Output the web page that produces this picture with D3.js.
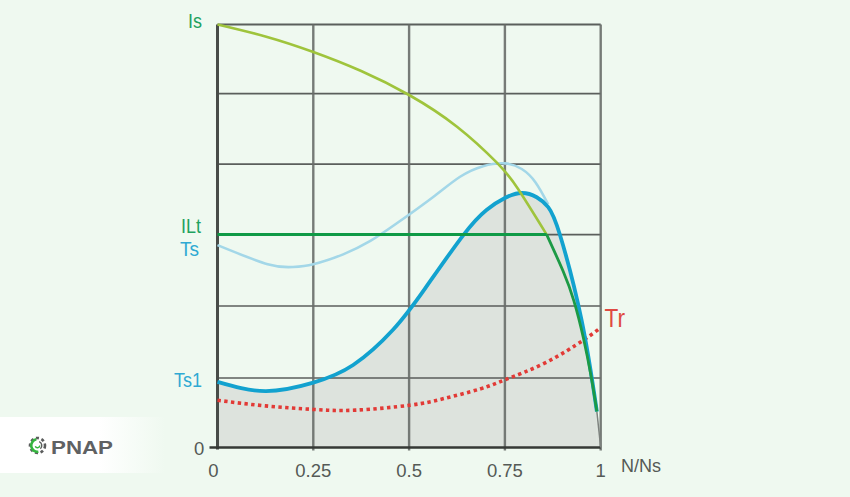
<!DOCTYPE html>
<html>
<head>
<meta charset="utf-8">
<style>
html,body{margin:0;padding:0;background:#eff9f0;}
svg{display:block;}
text{font-family:"Liberation Sans",Arial,sans-serif;}
</style>
<script src="https://cdn.jsdelivr.net/npm/d3@7"></script>
</head>
<body>
<svg id="chart" width="850" height="497"></svg>
<script>
// Motor speed ratio on x, current / torque in grid divisions on y
const xTicks = [0, 0.25, 0.5, 0.75, 1];
const xTickLabels = ["0", "0.25", "0.5", "0.75", "1"];
const gridLevels = [0.986, 2.007, 3.02, 4.02, 5.02, 6];

const currentIsUpper = [[0,6],[.125,5.83],[.25,5.61],[.375,5.34],[.5,5.0],[.625,4.55],[.729,4.04],[.784,3.67],[.859,3.02]];
const currentIsLower = [[.859,3.02],[.902,2.5],[.93,2.08],[.955,1.55],[.976,.98],[.99,.51]];
const currentTail = [[.99,.51],[1,0]];
const currentILt = [[0,3.02],[.859,3.02]];
const torqueTs = [[0,2.87],[.131,2.6],[.197,2.56],[.25,2.6],[.328,2.74],[.399,2.93],[.468,3.18],[.562,3.55],[.633,3.84],[.693,3.99],[.75,4.03],[.794,3.95],[.83,3.76],[.863,3.45]];
const torqueTs1 = [[0,.93],[.125,.8],[.25,.92],[.354,1.17],[.458,1.67],[.541,2.25],[.641,3.01],[.702,3.37],[.75,3.54],[.794,3.61],[.833,3.55],[.863,3.41],[.894,3.01],[.95,1.81],[.99,.51]];
const torqueTr = [[0,.67],[.125,.59],[.25,.54],[.36,.53],[.502,.6],[.588,.69],[.685,.83],[.75,.96],[.855,1.2],[.954,1.52],[1,1.7]];

const seriesLabels = [
  {text:"Is", x:188, y:28, size:20, width:14, color:"#1fa25f"},
  {text:"ILt", x:181, y:232.5, size:20, width:20, color:"#1fa25f"},
  {text:"Ts", x:180, y:256, size:20, width:19, color:"#2fa9d3"},
  {text:"Ts1", x:174, y:386.5, size:20, width:28, color:"#2fa9d3"},
  {text:"Tr", x:604.5, y:327, size:26, width:20.5, color:"#df4a42"}
];

const svg = d3.select("#chart");
const x = d3.scaleLinear().domain([0,1]).range([217.5,600.7]);
const y = d3.scaleLinear().domain([0,6]).range([447.5,24.5]);
const line = d3.line().x(d=>x(d[0])).y(d=>y(d[1])).curve(d3.curveNatural);

// Shaded region under the reduced-voltage torque curve
const area = d3.area().x(d=>x(d[0])).y0(y(0)).y1(d=>y(d[1])).curve(d3.curveNatural);
svg.append("path").datum(torqueTs1).attr("d",area).attr("fill","#dde3dd");
svg.append("path").datum(torqueTs1.slice(-1).concat([[1,0],[.99,0]]))
  .attr("d",d3.line().x(d=>x(d[0])).y(d=>y(d[1]))).attr("fill","#dde3dd");

// Grid
const grid = svg.append("g");
grid.selectAll("line.h").data(gridLevels).join("line")
  .attr("x1",x(0)).attr("x2",x(1)).attr("y1",d=>y(d)).attr("y2",d=>y(d))
  .attr("stroke","#4a4e4b").attr("stroke-width",d=>d===6?2.2:1.7).attr("stroke-opacity",.9);
grid.selectAll("line.v").data(xTicks.slice(1)).join("line")
  .attr("x1",d=>x(d)).attr("x2",d=>x(d)).attr("y1",y(6)).attr("y2",y(0)+3)
  .attr("stroke","#686d69").attr("stroke-width",2.4).attr("stroke-opacity",.9);

// Main axes
svg.append("line").attr("x1",x(0)).attr("x2",x(0)).attr("y1",y(6)).attr("y2",y(0)+2)
  .attr("stroke","#484c48").attr("stroke-width",3);
svg.append("line").attr("x1",x(0)-8).attr("x2",x(1)).attr("y1",y(0)).attr("y2",y(0))
  .attr("stroke","#353935").attr("stroke-width",2.6);

// Curves
const stroke = (data, color, width) => svg.append("path").datum(data).attr("d",line)
  .attr("fill","none").attr("stroke",color).attr("stroke-width",width);
stroke(currentTail,"#7d827e",1.5);
stroke(torqueTs,"#a3d7e8",2.6);
stroke(torqueTr,"#e23a36",3.6).attr("stroke-dasharray","3.4 3.4");
stroke(torqueTs1,"#12a2cf",3.8);
stroke(currentIsUpper,"#9fc43c",2.6);
stroke(currentIsLower,"#1c9a45",2.8);
stroke(currentILt,"#0f9a46",3);

// Tick labels
svg.selectAll("text.xt").data(xTicks).join("text")
  .attr("x",d=>x(d)-(d===0?4:0)).attr("y",477).attr("text-anchor","middle")
  .attr("font-size",18.5).attr("fill","#555a56").text((d,i)=>xTickLabels[i]);
svg.append("text").attr("x",194).attr("y",454.5).attr("font-size",18.5).attr("fill","#555a56").text("0");
svg.append("text").attr("x",621).attr("y",472).attr("font-size",18).attr("fill","#555a56").text("N/Ns");

svg.selectAll("text.s").data(seriesLabels).join("text")
  .attr("x",d=>d.x).attr("y",d=>d.y).attr("font-size",d=>d.size).attr("fill",d=>d.color)
  .attr("textLength",d=>d.width).attr("lengthAdjust","spacingAndGlyphs").text(d=>d.text);

// Brand panel
const defs = svg.append("defs");
const g = defs.append("linearGradient").attr("id","panel");
g.append("stop").attr("offset","0.6").attr("stop-color","#ffffff");
g.append("stop").attr("offset","1").attr("stop-color","#eff9f0");
svg.append("rect").attr("x",0).attr("y",417).attr("width",165).attr("height",56).attr("fill","url(#panel)");
const logo = svg.append("g").attr("transform","translate(37.5,445.5)");
logo.append("circle").attr("r",7.5).attr("fill","none").attr("stroke","#5a5c5c").attr("stroke-width",2.6).attr("stroke-dasharray","3 2.6");
const arc = d3.arc();
logo.append("path").attr("d",arc({innerRadius:5,outerRadius:7.6,startAngle:3,endAngle:6.1})).attr("fill","#35b53f");
logo.append("path").attr("d",arc({innerRadius:1.6,outerRadius:3,startAngle:1.6,endAngle:4.4})).attr("fill","#35b53f");
logo.append("path").attr("d",arc({innerRadius:3.6,outerRadius:5,startAngle:.4,endAngle:2.4})).attr("fill","#5a5c5c");
svg.append("text").attr("x",51).attr("y",453.5).attr("font-size",19).attr("font-weight",700)
  .attr("textLength",62).attr("lengthAdjust","spacingAndGlyphs").attr("fill","#5f6163").text("PNAP");
</script>
</body>
</html>
